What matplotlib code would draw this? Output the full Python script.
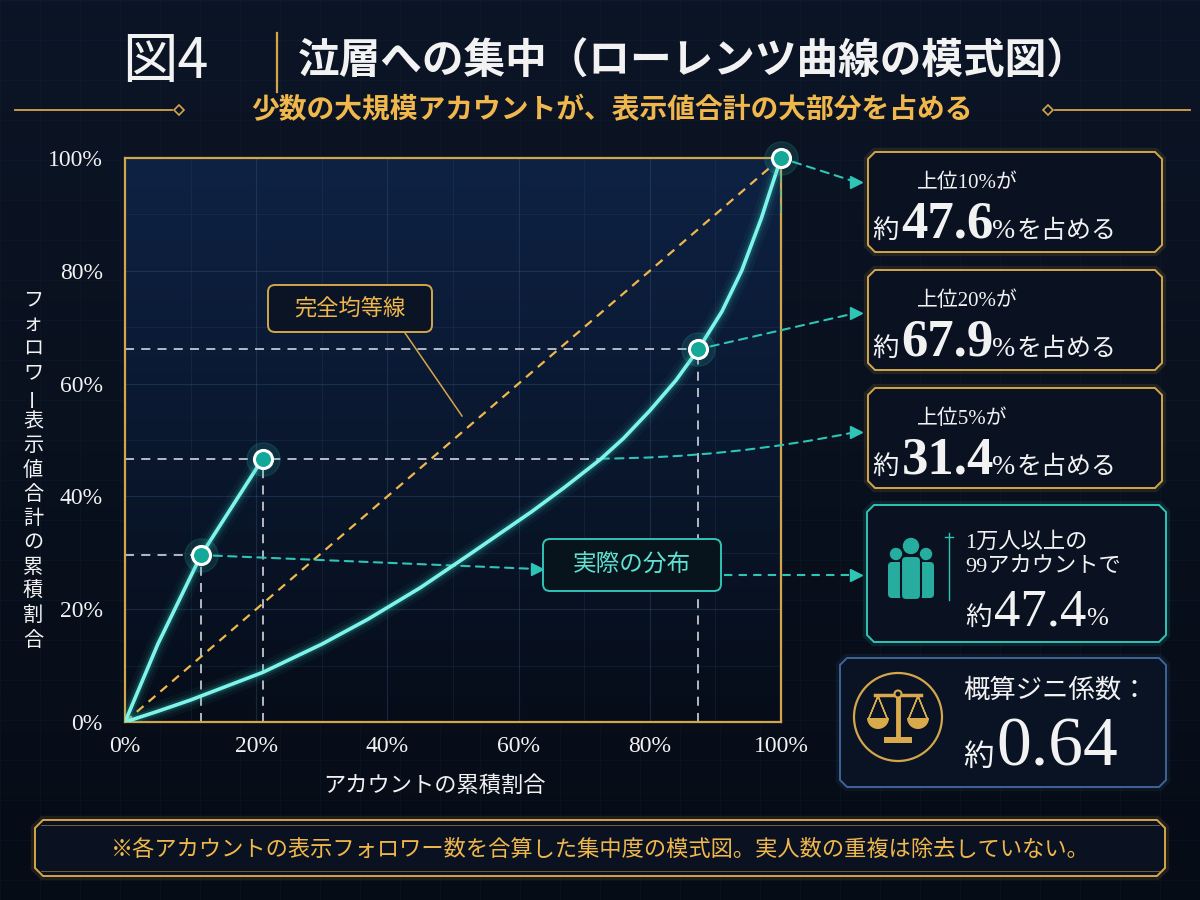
import numpy as np
import matplotlib
matplotlib.use('Agg')
import matplotlib.pyplot as plt
from matplotlib.patches import Polygon, Circle, FancyBboxPatch, Rectangle, Wedge

# ---------------- data ----------------
lorenz_x = [0, 0.05, 0.10, 0.21, 0.30, 0.37, 0.45, 0.52, 0.62, 0.67, 0.725, 0.76, 0.80, 0.84, 0.874, 0.91, 0.94, 0.97, 0.985, 1.0]
lorenz_y = [0, 0.019, 0.039, 0.088, 0.138, 0.182, 0.238, 0.293, 0.373, 0.416, 0.466, 0.503, 0.552, 0.606, 0.661, 0.728, 0.80, 0.893, 0.947, 1.0]
top_x = [0, 0.05, 0.116, 0.21]
top_y = [0, 0.138, 0.296, 0.467]
equal_x = [0, 1]
equal_y = [0, 1]
marker_x = [0.116, 0.21, 0.874, 1.0]
marker_y = [0.296, 0.467, 0.661, 1.0]
crossing_x = 0.725            # where the 0.467 guide meets the curve
ticks = [0, 0.2, 0.4, 0.6, 0.8, 1.0]
tick_labels = ['0%', '20%', '40%', '60%', '80%', '100%']
share_labels = ['上位10%が', '上位20%が', '上位5%が']
share_values = ['47.6', '67.9', '31.4']
accounts_lines = ['1万人以上の', '99アカウントで']
accounts_share = '47.4'
gini_label = '概算ジニ係数：'
gini_value = '0.64'

title_fig = '図4'
title_main = '泣層への集中（ローレンツ曲線の模式図）'
subtitle = '少数の大規模アカウントが、表示値合計の大部分を占める'
xlabel = 'アカウントの累積割合'
ylabel = 'フォロワー表示値合計の累積割合'
footer = '※各アカウントの表示フォロワー数を合算した集中度の模式図。実人数の重複は除去していない。'

# ---------------- style ----------------
CJK = ['Noto Sans CJK JP', 'DejaVu Sans']
SERIF = ['Liberation Serif', 'Noto Sans CJK JP', 'DejaVu Serif']
GOLD = '#d4a64a'
GOLD_T = '#f0b84c'
TEAL = '#2ec4b6'
CURVE = '#7ff4ea'
WHITE = '#f2f2f2'
plt.rcParams['font.family'] = CJK

fig = plt.figure(figsize=(12, 9), dpi=100)

# background overlay (pixel coordinates)
ov = fig.add_axes([0, 0, 1, 1], zorder=0)
ov.set_xlim(0, 1200)
ov.set_ylim(900, 0)
ov.axis('off')
g = np.linspace(0, 1, 256)[:, None]
c_top = np.array([0x0c, 0x15, 0x26]) / 255
c_bot = np.array([0x06, 0x0c, 0x16]) / 255
bg = c_top[None, None, :] * (1 - g[..., None]) + c_bot[None, None, :] * g[..., None]
bg = np.repeat(bg, 4, axis=1)
ov.imshow(bg, extent=[0, 1200, 900, 0], aspect='auto', zorder=0)
for gx in range(0, 1201, 40):
    ov.plot([gx, gx], [0, 900], color='#1c2c44', lw=0.5, alpha=0.25, zorder=0.5)
for gy in range(0, 901, 40):
    ov.plot([0, 1200], [gy, gy], color='#1c2c44', lw=0.5, alpha=0.25, zorder=0.5)

# ---------------- main chart ----------------
ax = fig.add_axes([125 / 1200, 1 - 722 / 900, 656 / 1200, 564 / 900], zorder=1)
ax.set_facecolor('none')
ax.set_xlim(0, 1)
ax.set_ylim(0, 1)
pg = np.linspace(0, 1, 256)[:, None]
p_bot = np.array([0x06, 0x0d, 0x19]) / 255
p_top = np.array([0x0e, 0x22, 0x44]) / 255
pimg = p_bot[None, None, :] * (1 - pg[..., None]) + p_top[None, None, :] * pg[..., None]
pimg = np.repeat(pimg, 4, axis=1)
ax.imshow(pimg, extent=[0, 1, 0, 1], origin='lower', aspect='auto', zorder=0)

for v in np.arange(1, 10) / 10:
    a = 0.32 if round(v * 10) % 2 == 0 else 0.16
    ax.axvline(v, color='#3d5f86', lw=0.8, alpha=a, zorder=1)
    ax.axhline(v, color='#3d5f86', lw=0.8, alpha=a, zorder=1)

for s in ax.spines.values():
    s.set_color(GOLD)
    s.set_linewidth(1.6)
ax.set_xticks(ticks)
ax.set_yticks(ticks)
ax.set_xticklabels(tick_labels, family=SERIF, fontsize=17, color=WHITE)
ax.set_yticklabels(tick_labels, family=SERIF, fontsize=17, color=WHITE)
ax.tick_params(length=0, pad=10)
ax.tick_params(axis='y', pad=16)

# equality line
ax.plot(equal_x, equal_y, color=GOLD_T, ls=(0, (4, 3)), lw=1.6, zorder=3)

# guide lines
gl = dict(color='#d5dbe4', ls=(0, (5, 4)), lw=1.3, zorder=2.5, alpha=0.9)
ax.plot([0, marker_x[0]], [marker_y[0], marker_y[0]], **gl)
ax.plot([0, crossing_x], [marker_y[1], marker_y[1]], **gl)
ax.plot([0, marker_x[2]], [marker_y[2], marker_y[2]], **gl)
for i in range(3):
    ax.plot([marker_x[i], marker_x[i]], [0, marker_y[i]], **gl)
ax.plot([1, 1], [1, 0.905], color=TEAL, ls=(0, (3, 2)), lw=2.2, zorder=3)


def glow_line(xs, ys):
    for lw, a in [(14, 0.05), (9, 0.09), (5.5, 0.18)]:
        ax.plot(xs, ys, color=TEAL, lw=lw, alpha=a, solid_capstyle='round',
                solid_joinstyle='round', zorder=4)
    ax.plot(xs, ys, color=CURVE, lw=2.6, solid_capstyle='round', solid_joinstyle='round', zorder=5)


glow_line(lorenz_x, lorenz_y)
glow_line(top_x, top_y)

ax.plot(marker_x, marker_y, 'o', ms=24, color=TEAL, alpha=0.15, zorder=6, clip_on=False)
ax.plot(marker_x, marker_y, 'o', ms=13, mfc='#14a898', mec='white', mew=2.2, zorder=7, clip_on=False)

# ---------------- foreground overlay (pixel coords) ----------------
fg = fig.add_axes([0, 0, 1, 1], zorder=2)
fg.set_xlim(0, 1200)
fg.set_ylim(900, 0)
fg.axis('off')
fg.patch.set_alpha(0)

tealdash = dict(arrowstyle='-', color=TEAL, lw=1.5, ls=(0, (4, 3)), shrinkA=9, shrinkB=0)


def conn(xy_data, xy_px, rad=0.0, shrinkA=9):
    p = dict(tealdash)
    p['shrinkA'] = shrinkA
    p['connectionstyle'] = 'arc3,rad=%g' % rad
    ax.annotate('', xy=xy_px, xycoords=fg.transData, xytext=xy_data, textcoords='data',
                arrowprops=p, annotation_clip=False, zorder=3)
    fg.plot(xy_px[0], xy_px[1], marker='>', ms=8, color=TEAL, zorder=5)


conn((marker_x[3], marker_y[3]), (856, 182))
conn((marker_x[2], marker_y[2]), (856, 313))
conn((crossing_x, marker_y[1]), (856, 432), rad=0.05, shrinkA=0)
conn((marker_x[0], marker_y[0]), (537, 569))
fg.plot([724, 852], [575, 575], color=TEAL, lw=1.5, ls=(0, (4, 3)))
fg.plot(856, 575, marker='>', ms=8, color=TEAL)

# label boxes on the chart
fg.add_patch(FancyBboxPatch((268, 285), 164, 47, boxstyle='round,pad=0,rounding_size=7',
                            fc='#0a1424', ec=GOLD, lw=1.4, zorder=4))
fg.text(350, 309, '完全均等線', fontsize=16, color=GOLD_T, ha='center', va='center', zorder=5)
fg.plot([405, 462], [333, 416], color=GOLD, lw=1.1, zorder=4)

fg.add_patch(FancyBboxPatch((543, 539), 178, 52, boxstyle='round,pad=0,rounding_size=7',
                            fc='#07141c', ec=TEAL, lw=1.4, zorder=4))
fg.text(632, 565, '実際の分布', fontsize=17, color='#5fe0d2', ha='center', va='center', zorder=5)

# ---------------- titles ----------------
ov.text(165, 62, title_fig, fontsize=40, color=WHITE, ha='center', va='center')
ov.plot([277, 277], [33, 92], color=GOLD, lw=1.6)
ov.text(298, 62, title_main, fontsize=30, color=WHITE, ha='left', va='center', weight='bold')
ov.text(612, 110, subtitle, fontsize=20, color=GOLD_T, ha='center', va='center', weight='bold')
ov.plot([15, 172], [110, 110], color=GOLD, lw=1.3)
ov.plot(179, 110, marker='D', ms=5.5, mfc='none', mec=GOLD, mew=1.2)
ov.plot(1048, 110, marker='D', ms=5.5, mfc='none', mec=GOLD, mew=1.2)
ov.plot([1055, 1190], [110, 110], color=GOLD, lw=1.3)

# axis labels
ov.text(435, 785, xlabel, fontsize=16, color=WHITE, ha='center', va='center')
ychars = list(ylabel)
for i, ch in enumerate(ychars):
    y = 300 + i * 24.3
    rot = 90 if ch == 'ー' else 0
    ov.text(33, y, ch, fontsize=14.5, color=WHITE, ha='center', va='center', rotation=rot)


# ---------------- right-hand panels ----------------
def notched_box(x0, y0, x1, y1, ec, fc='#0a1221', c=7, lw=1.4):
    pts = [(x0 + c, y0), (x1 - c, y0), (x1, y0 + c), (x1, y1 - c), (x1 - c, y1),
           (x0 + c, y1), (x0, y1 - c), (x0, y0 + c)]
    ov.add_patch(Polygon(pts, closed=True, fc='none', ec=ec, lw=6, alpha=0.12, zorder=2))
    ov.add_patch(Polygon(pts, closed=True, fc=fc, ec=ec, lw=lw, zorder=3))


fig.canvas.draw()
renderer = fig.canvas.get_renderer()


def seq(x, y, pieces):
    for s, kw, gap in pieces:
        t = ov.text(x, y, s, ha='left', va='baseline', color=WHITE, zorder=5, **kw)
        bb = t.get_window_extent(renderer)
        x += bb.width + gap


box_tops = [152, 270, 388]
for top, lab, val in zip(box_tops, share_labels, share_values):
    notched_box(868, top, 1162, top + 100, GOLD)
    ov.text(917, top + 31, lab, fontsize=15, family=SERIF, color=WHITE, ha='left', va='center', zorder=5)
    seq(872, top + 86, [('約', dict(fontsize=19, family=CJK), 3),
                        (val, dict(fontsize=38, family=SERIF, weight='bold'), -2),
                        ('%', dict(fontsize=20, family=SERIF), 2),
                        ('を占める', dict(fontsize=18, family=CJK), 0)])

# accounts box
notched_box(867, 505, 1166, 642, TEAL)
ic = '#27ad9f'
ov.add_patch(Circle((911, 546), 7.5, color=ic, zorder=5))
ov.add_patch(Circle((896, 554), 5.5, color=ic, zorder=5))
ov.add_patch(Circle((926, 554), 5.5, color=ic, zorder=5))
ov.add_patch(FancyBboxPatch((888, 562), 15, 36, boxstyle='round,pad=0,rounding_size=4', fc=ic, ec='none', zorder=4.5))
ov.add_patch(FancyBboxPatch((919, 562), 15, 36, boxstyle='round,pad=0,rounding_size=4', fc=ic, ec='none', zorder=4.5))
ov.add_patch(FancyBboxPatch((901, 556), 20, 44, boxstyle='round,pad=0,rounding_size=5', fc=ic, ec='#0a1221', lw=1.5, zorder=5))
ov.plot([949, 949], [533, 600], color=TEAL, lw=1.0, zorder=5)
ov.plot([945, 953], [537, 537], color=TEAL, lw=1.0, zorder=5)
ov.text(965, 543, accounts_lines[0], fontsize=16, family=SERIF, color=WHITE, ha='left', va='center', zorder=5)
ov.text(965, 568, accounts_lines[1], fontsize=16, family=SERIF, color=WHITE, ha='left', va='center', zorder=5)
seq(965, 625, [('約', dict(fontsize=19, family=CJK), 3),
               (accounts_share, dict(fontsize=38, family=SERIF), -1),
               ('%', dict(fontsize=19, family=SERIF), 0)])

# gini box
notched_box(840, 658, 1166, 787, '#3e6496', fc='#0a1324')
ov.add_patch(Circle((898, 717), 44, fc='none', ec=GOLD, lw=1.6, zorder=5))
sc = '#d9aa4c'
ov.plot([875, 921], [695, 695], color=sc, lw=2.5, zorder=5)
ov.plot([898, 898], [695, 738], color=sc, lw=3.5, zorder=5)
ov.add_patch(Circle((898, 694), 3.5, fc='#0a1324', ec=sc, lw=1.5, zorder=6))
ov.add_patch(Rectangle((884, 737), 28, 6, fc=sc, ec='none', zorder=5))
for cx in (878, 918):
    ov.plot([cx, cx - 9, cx, cx + 9, cx], [696, 718, 696, 718, 696], color=sc, lw=1.0, zorder=5)
    ov.add_patch(Wedge((cx, 718), 11, 0, 180, fc=sc, ec='none', zorder=5,
                       transform=ov.transData))
ov.text(963, 690, gini_label, fontsize=19, color=WHITE, ha='left', va='center', zorder=5)
seq(963, 766, [('約', dict(fontsize=22, family=CJK), 3),
               (gini_value, dict(fontsize=50, family=SERIF), 0)])

# footer
notched_box(35, 820, 1165, 876, GOLD, fc='#0a1221', c=8)
ov.plot([41, 1159], [825, 825], color=GOLD, lw=0.6, alpha=0.6, zorder=4)
ov.plot([41, 1159], [871, 871], color=GOLD, lw=0.6, alpha=0.6, zorder=4)
ov.text(600, 849, footer, fontsize=16, color=GOLD_T, ha='center', va='center', zorder=5)

fig.savefig('out.png', dpi=100)
